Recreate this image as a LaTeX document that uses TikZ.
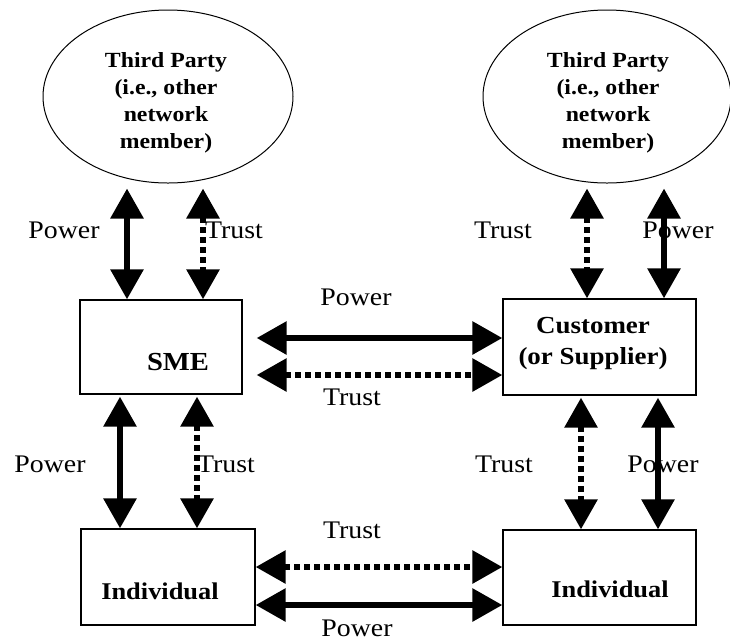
\documentclass[tikz,border=0pt]{standalone}
\usepackage{fontspec}
\setmainfont{Liberation Serif}[FakeStretch=1.1]
\usetikzlibrary{arrows.meta,shapes.geometric,calc}

\tikzset{
  party/.style={draw, ellipse, line width=1pt, inner sep=0pt},
  actor/.style={draw, rectangle, line width=1.3pt, inner sep=0pt},
  lbl/.style={anchor=base, inner sep=0pt, font=\fontsize{25.3}{28}\selectfont},
  boxtxt/.style={inner sep=0pt, font=\fontsize{24}{31}\selectfont\bfseries},
  link/.style={line width=6pt, {Triangle[length=30pt,width=32pt]}-{Triangle[length=30pt,width=32pt]}},
  pw/.style={link},
  tr/.style={link, dash pattern=on 5.5pt off 4.5pt},
}

\begin{document}
\begin{tikzpicture}[x=1pt, y=-1pt]
\useasboundingbox (0,0) rectangle (730,641);

% the two third parties
\node[party, minimum width=250pt, minimum height=173pt] (ellL) at (168,96.5) {};
\node[party, minimum width=248pt, minimum height=173pt] (ellR) at (607,96.5) {};
\node[boxtxt, anchor=north, align=center, font=\fontsize{21.6}{27}\selectfont\bfseries] (tpL) at (166,52) {Third Party\\(i.e., other\\network\\member)};
\node[boxtxt, anchor=north, align=center, font=\fontsize{21.6}{27}\selectfont\bfseries] (tpR) at (608,52) {Third Party\\(i.e., other\\network\\member)};

% the four actors
\node[actor, minimum width=162pt, minimum height=94pt] (sme) at (161,347) {};
\node[actor, minimum width=193pt, minimum height=96pt] (cust) at (599.5,347) {};
\node[actor, minimum width=174pt, minimum height=96pt] (indL) at (168,577) {};
\node[actor, minimum width=193pt, minimum height=95pt] (indR) at (599.5,577.5) {};

\node[boxtxt, anchor=base, font=\fontsize{26}{31}\selectfont\bfseries] (smeT) at (178,370) {SME};
\node[boxtxt, anchor=north, align=center, font=\fontsize{24.5}{31}\selectfont\bfseries] (custT) at (593,317) {Customer\\(or Supplier)};
\node[boxtxt, anchor=base] (indLT) at (160,599) {Individual};
\node[boxtxt, anchor=base] (indRT) at (610,597) {Individual};

% third party links
\draw[pw] ($(127,0 |- ellL.south)+(0,5)$) -- (127,0 |- sme.north);
\draw[tr] ($(203,0 |- ellL.south)+(0,5)$) -- (203,0 |- sme.north);
\draw[tr] ($(587,0 |- ellR.south)+(0,5)$) -- (587,0 |- cust.north);
\draw[pw] ($(664,0 |- ellR.south)+(0,5)$) -- (664,0 |- cust.north);

% firm to individual links
\draw[pw] ($(120,0 |- sme.south)+(0,2)$) -- (120,0 |- indL.north);
\draw[tr] ($(197,0 |- sme.south)+(0,2)$) -- (197,0 |- indL.north);
\draw[tr] ($(581,0 |- cust.south)+(0,2)$) -- (581,0 |- indR.north);
\draw[pw] ($(658,0 |- cust.south)+(0,2)$) -- (658,0 |- indR.north);

% firm to firm links
\draw[pw] ($(sme.east |- 0,338)+(14,0)$) -- (cust.west |- 0,338);
\draw[tr] ($(sme.east |- 0,375)+(14,0)$) -- (cust.west |- 0,375);

% individual to individual links
\draw[tr] (indL.east |- 0,567) -- (indR.west |- 0,567);
\draw[pw] (indL.east |- 0,605) -- (indR.west |- 0,605);

% labels
\node[lbl] (l1) at (64,238) {Power};
\node[lbl] (l2) at (234,238) {Trust};
\node[lbl] (l3) at (503,238) {Trust};
\node[lbl] (l4) at (678,238) {Power};
\node[lbl] (l5) at (50,472) {Power};
\node[lbl] (l6) at (226,472) {Trust};
\node[lbl] (l7) at (504,472) {Trust};
\node[lbl] (l8) at (663,472) {Power};
\node[lbl] (l9) at (356,305) {Power};
\node[lbl] (l10) at (352,405) {Trust};
\node[lbl] (l11) at (352,538) {Trust};
\node[lbl] (l12) at (357,636.5) {Power};
\end{tikzpicture}
\end{document}
